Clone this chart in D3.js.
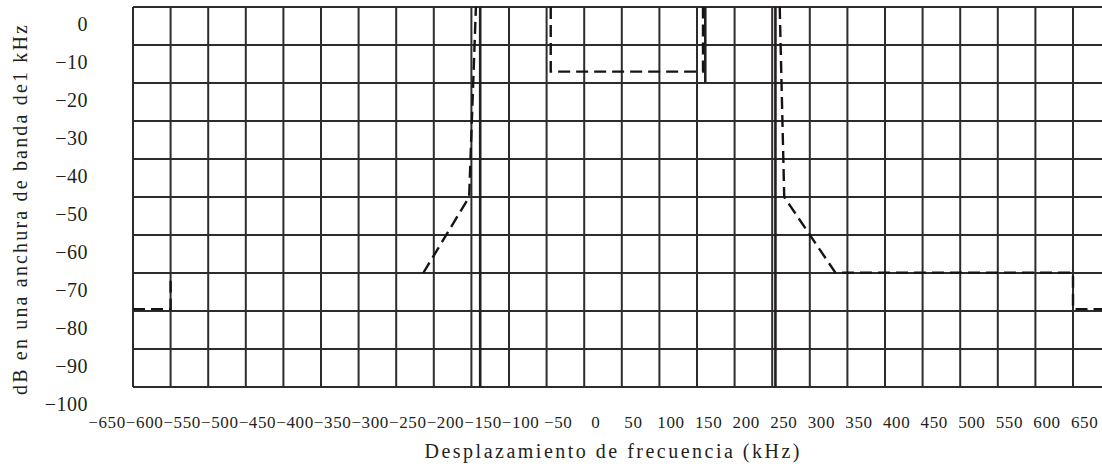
<!DOCTYPE html>
<html>
<head>
<meta charset="utf-8">
<script src="https://cdn.jsdelivr.net/npm/d3@7"></script>
<style>
  body { margin: 0; background: #fff; overflow: hidden; }
</style>
</head>
<body>
<svg id="chart" width="1102" height="466"></svg>
<script>
// tick labels
let xTicks = [-650, -600, -550, -500, -450, -400, -350, -300, -250, -200, -150, -100, -50, 0,
  50, 100, 150, 200, 250, 300, 350, 400, 450, 500, 550, 600, 650]
let yTicks = [0, -10, -20, -30, -40, -50, -60, -70, -80, -90, -100]

// dashed mask pieces  [kHz, dB]
let maskFar = [[-650, -79.5], [-600, -79.5], [-600, -71.5]]
let maskLow = [[-264, -70], [-203, -50], [-194, 0]]
let maskCentre = [[-94.5, 0], [-94.5, -17], [108, -17], [108, 0]]
let maskHigh = [[210, 0], [216, -50], [284, -69.9], [600, -69.9], [600, -79.5], [650, -79.5]]

// solid vertical lines  [kHz, top dB, bottom dB]
let solidLines = [[-188.3, 0, -100], [111, 0, -20], [204.3, 0, -100]]

let svg = d3.select("#chart")
let ink = "#231f20"
let serif = "'Liberation Serif'"

let xScale = d3.scaleLinear().domain([-650, 650]).range([133, 1110.6])
let yScale = d3.scaleLinear().domain([-100, 0]).range([387, 7])

// grid
let grid = svg.append("g")
grid.selectAll("line.v")
  .data(xTicks)
  .enter()
  .append("line")
  .attr("class", "v")
  .attr("x1", d => xScale(d))
  .attr("x2", d => xScale(d))
  .attr("y1", yScale(0))
  .attr("y2", yScale(-100))
  .attr("stroke", "#2e2b2b")
  .attr("stroke-width", 2)

grid.selectAll("line.h")
  .data(yTicks)
  .enter()
  .append("line")
  .attr("class", "h")
  .attr("x1", xScale(-650))
  .attr("x2", xScale(650))
  .attr("y1", d => yScale(d))
  .attr("y2", d => yScale(d))
  .attr("stroke", "#2e2b2b")
  .attr("stroke-width", 2)

// solid lines
svg.selectAll("line.solid")
  .data(solidLines)
  .enter()
  .append("line")
  .attr("class", "solid")
  .attr("x1", d => xScale(d[0]))
  .attr("x2", d => xScale(d[0]))
  .attr("y1", d => yScale(d[1]))
  .attr("y2", d => yScale(d[2]))
  .attr("stroke", ink)
  .attr("stroke-width", 2.6)

// dashed mask
let line = d3.line()
  .x(d => xScale(d[0]))
  .y(d => yScale(d[1]))

svg.selectAll("path.mask")
  .data([maskFar, maskLow, maskCentre, maskHigh])
  .enter()
  .append("path")
  .attr("class", "mask")
  .attr("d", line)
  .attr("fill", "none")
  .attr("stroke", "#151313")
  .attr("stroke-width", 2.4)
  .attr("stroke-dasharray", "12,6")

// tick labels (offset from the grid as in the original figure)
svg.selectAll("text.xt")
  .data(xTicks)
  .enter()
  .append("text")
  .attr("class", "xt")
  .attr("x", d => xScale(d) - 26)
  .attr("y", yScale(-100) + 41)
  .attr("text-anchor", "middle")
  .attr("font-family", serif)
  .attr("font-size", 17)
  .attr("letter-spacing", 0.6)
  .attr("fill", ink)
  .text(d => d < 0 ? "\u2212" + Math.abs(d) : d)

svg.selectAll("text.yt")
  .data(yTicks)
  .enter()
  .append("text")
  .attr("class", "yt")
  .attr("x", 88)
  .attr("y", d => yScale(d) + 16.5)
  .attr("dy", "0.35em")
  .attr("text-anchor", "end")
  .attr("font-family", serif)
  .attr("font-size", 20)
  .attr("letter-spacing", 0.5)
  .attr("fill", ink)
  .text(d => d < 0 ? "\u2212" + Math.abs(d) : d)

// titles
svg.append("text")
  .attr("x", 612)
  .attr("y", 458)
  .attr("text-anchor", "middle")
  .attr("textLength", 375)
  .attr("lengthAdjust", "spacing")
  .attr("font-family", serif)
  .attr("font-size", 20)
  .attr("fill", ink)
  .text("Desplazamiento de frecuencia (kHz)")

svg.append("text")
  .attr("transform", "translate(27,210) rotate(-90)")
  .attr("text-anchor", "middle")
  .attr("textLength", 370)
  .attr("lengthAdjust", "spacing")
  .attr("font-family", serif)
  .attr("font-size", 20)
  .attr("fill", ink)
  .text("dB en una anchura de banda de1 kHz")
</script>
</body>
</html>
